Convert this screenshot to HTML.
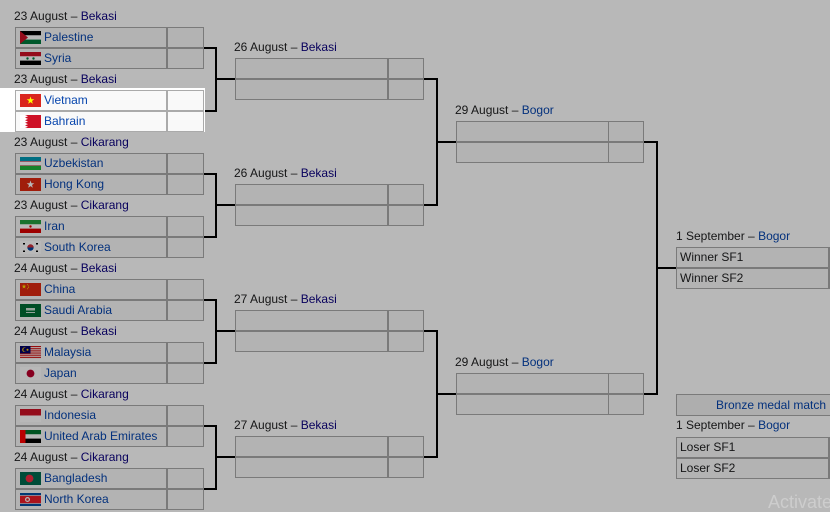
<!DOCTYPE html>
<html><head><meta charset="utf-8">
<style>
html,body{margin:0;padding:0}
body{width:830px;height:512px;overflow:hidden;position:relative;background:#fff;font-family:"Liberation Sans",Arial,sans-serif}
.lbl{position:absolute;font-size:12px;line-height:14px;color:#202122;white-space:nowrap}
.vi{color:#0b0080}.bl{color:#0645ad}
.c{position:absolute;height:21px;box-sizing:border-box;border:1px solid #aaa;background:#f9f9f9;font-size:12px;line-height:19px;color:#0645ad;white-space:nowrap;overflow:hidden}
.n{width:152px}.s{width:37px}
.q{width:153px}.qs{width:36px}
.c span{position:absolute;left:28px;top:0}
.f{position:absolute;left:4px;top:3px;width:21px;height:13px}
.w{color:#202122;padding-left:3px}
.h{position:absolute;height:2px;background:#000}
.v{position:absolute;width:2px;background:#000}
#ov{position:absolute;left:0;top:0;width:830px;height:512px;background:rgba(0,0,0,0.28);z-index:5}
#hl{position:absolute;left:0;top:88px;width:205px;height:44px;background:#fff;z-index:10}
.top{z-index:11}
#act{position:absolute;left:768px;top:492px;font-size:18px;line-height:20px;color:#cdcdcd;z-index:20;white-space:nowrap}
</style></head><body>

<!-- Round 1 labels -->
<div class="lbl" style="left:14px;top:9px">23 August – <span class="vi">Bekasi</span></div>
<div class="lbl" style="left:14px;top:72px">23 August – <span class="vi">Bekasi</span></div>
<div class="lbl" style="left:14px;top:135px">23 August – <span class="vi">Cikarang</span></div>
<div class="lbl" style="left:14px;top:198px">23 August – <span class="vi">Cikarang</span></div>
<div class="lbl" style="left:14px;top:261px">24 August – <span class="vi">Bekasi</span></div>
<div class="lbl" style="left:14px;top:324px">24 August – <span class="vi">Bekasi</span></div>
<div class="lbl" style="left:14px;top:387px">24 August – <span class="vi">Cikarang</span></div>
<div class="lbl" style="left:14px;top:450px">24 August – <span class="vi">Cikarang</span></div>

<!-- Palestine -->
<div class="c n" style="left:15px;top:27px"><svg class="f" viewBox="0 0 21 13" preserveAspectRatio="none"><rect width="21" height="4.4" fill="#000"/><rect y="4.3" width="21" height="4.4" fill="#fff"/><rect y="8.6" width="21" height="4.4" fill="#007a3d"/><polygon points="0,0 8,6.5 0,13" fill="#ce1126"/></svg><span>Palestine</span></div>
<div class="c s" style="left:167px;top:27px"></div>
<!-- Syria -->
<div class="c n" style="left:15px;top:48px"><svg class="f" viewBox="0 0 21 13" preserveAspectRatio="none"><rect width="21" height="4.4" fill="#ce1126"/><rect y="4.3" width="21" height="4.4" fill="#fff"/><rect y="8.6" width="21" height="4.4" fill="#000"/><circle cx="7.5" cy="6.5" r="1.2" fill="#007a3d"/><circle cx="13.5" cy="6.5" r="1.2" fill="#007a3d"/></svg><span>Syria</span></div>
<div class="c s" style="left:167px;top:48px"></div>

<!-- Uzbekistan -->
<div class="c n" style="left:15px;top:153px"><svg class="f" viewBox="0 0 21 13" preserveAspectRatio="none"><rect width="21" height="13" fill="#fff"/><rect width="21" height="4.2" fill="#0099b5"/><rect y="4.2" width="21" height="0.5" fill="#ce1126"/><rect y="8.3" width="21" height="0.5" fill="#ce1126"/><rect y="8.8" width="21" height="4.2" fill="#1eb53a"/></svg><span>Uzbekistan</span></div>
<div class="c s" style="left:167px;top:153px"></div>
<!-- Hong Kong -->
<div class="c n" style="left:15px;top:174px"><svg class="f" viewBox="0 0 21 13" preserveAspectRatio="none"><rect width="21" height="13" fill="#de2910"/><polygon points="10.5,2.5 11.44,5.21 14.3,5.26 12.02,6.99 12.85,9.74 10.5,8.1 8.15,9.74 8.98,6.99 6.7,5.26 9.56,5.21" fill="#fff"/></svg><span>Hong Kong</span></div>
<div class="c s" style="left:167px;top:174px"></div>
<!-- Iran -->
<div class="c n" style="left:15px;top:216px"><svg class="f" viewBox="0 0 21 13" preserveAspectRatio="none"><rect width="21" height="4.4" fill="#239f40"/><rect y="4.3" width="21" height="4.4" fill="#fff"/><rect y="8.6" width="21" height="4.4" fill="#da0000"/><circle cx="10.5" cy="6.5" r="1.2" fill="#da0000"/></svg><span>Iran</span></div>
<div class="c s" style="left:167px;top:216px"></div>
<!-- South Korea -->
<div class="c n" style="left:15px;top:237px"><svg class="f" viewBox="0 0 21 13" preserveAspectRatio="none"><rect width="21" height="13" fill="#fff"/><path d="M7.3,6.5 A3.2,3.2 0 0 1 13.7,6.5 Z" fill="#cd2e3a"/><path d="M7.3,6.5 A3.2,3.2 0 0 0 13.7,6.5 Z" fill="#0047a0"/><rect x="3" y="2" width="2" height="1.5" fill="#000"/><rect x="16" y="2" width="2" height="1.5" fill="#000"/><rect x="3" y="9.5" width="2" height="1.5" fill="#000"/><rect x="16" y="9.5" width="2" height="1.5" fill="#000"/></svg><span>South Korea</span></div>
<div class="c s" style="left:167px;top:237px"></div>
<!-- China -->
<div class="c n" style="left:15px;top:279px"><svg class="f" viewBox="0 0 21 13" preserveAspectRatio="none"><rect width="21" height="13" fill="#de2910"/><g transform="translate(4 3.5) scale(0.6) translate(-10.5 -6.5)"><polygon points="10.5,2.5 11.44,5.21 14.3,5.26 12.02,6.99 12.85,9.74 10.5,8.1 8.15,9.74 8.98,6.99 6.7,5.26 9.56,5.21" fill="#ffde00"/></g><circle cx="7.5" cy="1.8" r="0.5" fill="#ffde00"/><circle cx="8.5" cy="3" r="0.5" fill="#ffde00"/><circle cx="8.5" cy="4.6" r="0.5" fill="#ffde00"/><circle cx="7.5" cy="5.8" r="0.5" fill="#ffde00"/></svg><span>China</span></div>
<div class="c s" style="left:167px;top:279px"></div>
<!-- Saudi Arabia -->
<div class="c n" style="left:15px;top:300px"><svg class="f" viewBox="0 0 21 13" preserveAspectRatio="none"><rect width="21" height="13" fill="#006c35"/><rect x="6" y="4" width="9" height="2.5" fill="#cfe3d6"/><rect x="6" y="8" width="9" height="0.8" fill="#fff"/></svg><span>Saudi Arabia</span></div>
<div class="c s" style="left:167px;top:300px"></div>
<!-- Malaysia -->
<div class="c n" style="left:15px;top:342px"><svg class="f" viewBox="0 0 21 13" preserveAspectRatio="none"><rect width="21" height="13" fill="#fff"/><rect y="0" width="21" height="0.93" fill="#cc0001"/><rect y="1.86" width="21" height="0.93" fill="#cc0001"/><rect y="3.71" width="21" height="0.93" fill="#cc0001"/><rect y="5.57" width="21" height="0.93" fill="#cc0001"/><rect y="7.43" width="21" height="0.93" fill="#cc0001"/><rect y="9.29" width="21" height="0.93" fill="#cc0001"/><rect y="11.14" width="21" height="0.93" fill="#cc0001"/><rect width="10.5" height="7.4" fill="#010066"/><circle cx="4.5" cy="3.7" r="2.3" fill="#fc0"/><circle cx="5.3" cy="3.7" r="2" fill="#010066"/><circle cx="7.5" cy="3.7" r="1" fill="#fc0"/></svg><span>Malaysia</span></div>
<div class="c s" style="left:167px;top:342px"></div>
<!-- Japan -->
<div class="c n" style="left:15px;top:363px"><svg class="f" viewBox="0 0 21 13" preserveAspectRatio="none"><rect width="21" height="13" fill="#fff"/><circle cx="10.5" cy="6.5" r="3.9" fill="#bc002d"/></svg><span>Japan</span></div>
<div class="c s" style="left:167px;top:363px"></div>
<!-- Indonesia -->
<div class="c n" style="left:15px;top:405px"><svg class="f" viewBox="0 0 21 13" preserveAspectRatio="none"><rect width="21" height="13" fill="#fff"/><rect width="21" height="6.5" fill="#ce1126"/></svg><span>Indonesia</span></div>
<div class="c s" style="left:167px;top:405px"></div>
<!-- UAE -->
<div class="c n" style="left:15px;top:426px"><svg class="f" viewBox="0 0 21 13" preserveAspectRatio="none"><rect width="21" height="4.4" fill="#00732f"/><rect y="4.3" width="21" height="4.4" fill="#fff"/><rect y="8.6" width="21" height="4.4" fill="#000"/><rect width="5.5" height="13" fill="#ff0000"/></svg><span>United Arab Emirates</span></div>
<div class="c s" style="left:167px;top:426px"></div>
<!-- Bangladesh -->
<div class="c n" style="left:15px;top:468px"><svg class="f" viewBox="0 0 21 13" preserveAspectRatio="none"><rect width="21" height="13" fill="#006a4e"/><circle cx="9.5" cy="6.5" r="3.9" fill="#f42a41"/></svg><span>Bangladesh</span></div>
<div class="c s" style="left:167px;top:468px"></div>
<!-- North Korea -->
<div class="c n" style="left:15px;top:489px"><svg class="f" viewBox="0 0 21 13" preserveAspectRatio="none"><rect width="21" height="13" fill="#024fa2"/><rect y="2.2" width="21" height="8.6" fill="#fff"/><rect y="2.8" width="21" height="7.4" fill="#ed1c27"/><circle cx="7.5" cy="6.5" r="2.5" fill="#fff"/><circle cx="7.5" cy="6.5" r="1.3" fill="#ed1c27"/></svg><span>North Korea</span></div>
<div class="c s" style="left:167px;top:489px"></div>

<!-- R1 connectors -->
<div class="h" style="left:204px;top:47px;width:13px"></div>
<div class="h" style="left:204px;top:110px;width:13px"></div>
<div class="v" style="left:215px;top:47px;height:65px"></div>
<div class="h" style="left:215px;top:78px;width:20px"></div>

<div class="h" style="left:204px;top:173px;width:13px"></div>
<div class="h" style="left:204px;top:236px;width:13px"></div>
<div class="v" style="left:215px;top:173px;height:65px"></div>
<div class="h" style="left:215px;top:204px;width:20px"></div>

<div class="h" style="left:204px;top:299px;width:13px"></div>
<div class="h" style="left:204px;top:362px;width:13px"></div>
<div class="v" style="left:215px;top:299px;height:65px"></div>
<div class="h" style="left:215px;top:330px;width:20px"></div>

<div class="h" style="left:204px;top:425px;width:13px"></div>
<div class="h" style="left:204px;top:488px;width:13px"></div>
<div class="v" style="left:215px;top:425px;height:65px"></div>
<div class="h" style="left:215px;top:456px;width:20px"></div>

<!-- Quarterfinals -->
<div class="lbl" style="left:234px;top:40px">26 August – <span class="vi">Bekasi</span></div>
<div class="c q" style="left:235px;top:58px"></div><div class="c qs" style="left:388px;top:58px"></div>
<div class="c q" style="left:235px;top:79px"></div><div class="c qs" style="left:388px;top:79px"></div>

<div class="lbl" style="left:234px;top:166px">26 August – <span class="vi">Bekasi</span></div>
<div class="c q" style="left:235px;top:184px"></div><div class="c qs" style="left:388px;top:184px"></div>
<div class="c q" style="left:235px;top:205px"></div><div class="c qs" style="left:388px;top:205px"></div>

<div class="lbl" style="left:234px;top:292px">27 August – <span class="vi">Bekasi</span></div>
<div class="c q" style="left:235px;top:310px"></div><div class="c qs" style="left:388px;top:310px"></div>
<div class="c q" style="left:235px;top:331px"></div><div class="c qs" style="left:388px;top:331px"></div>

<div class="lbl" style="left:234px;top:418px">27 August – <span class="vi">Bekasi</span></div>
<div class="c q" style="left:235px;top:436px"></div><div class="c qs" style="left:388px;top:436px"></div>
<div class="c q" style="left:235px;top:457px"></div><div class="c qs" style="left:388px;top:457px"></div>

<!-- QF connectors -->
<div class="h" style="left:424px;top:78px;width:14px"></div>
<div class="h" style="left:424px;top:204px;width:14px"></div>
<div class="v" style="left:436px;top:78px;height:128px"></div>
<div class="h" style="left:436px;top:141px;width:20px"></div>

<div class="h" style="left:424px;top:330px;width:14px"></div>
<div class="h" style="left:424px;top:456px;width:14px"></div>
<div class="v" style="left:436px;top:330px;height:128px"></div>
<div class="h" style="left:436px;top:393px;width:20px"></div>

<!-- Semifinals -->
<div class="lbl" style="left:455px;top:103px">29 August – <span class="bl">Bogor</span></div>
<div class="c q" style="left:456px;top:121px"></div><div class="c qs" style="left:608px;top:121px"></div>
<div class="c q" style="left:456px;top:142px"></div><div class="c qs" style="left:608px;top:142px"></div>

<div class="lbl" style="left:455px;top:355px">29 August – <span class="bl">Bogor</span></div>
<div class="c q" style="left:456px;top:373px"></div><div class="c qs" style="left:608px;top:373px"></div>
<div class="c q" style="left:456px;top:394px"></div><div class="c qs" style="left:608px;top:394px"></div>

<!-- SF connectors -->
<div class="h" style="left:644px;top:141px;width:14px"></div>
<div class="h" style="left:644px;top:393px;width:14px"></div>
<div class="v" style="left:656px;top:141px;height:254px"></div>
<div class="h" style="left:656px;top:267px;width:20px"></div>

<!-- Final -->
<div class="lbl" style="left:676px;top:229px">1 September – <span class="bl">Bogor</span></div>
<div class="c q w" style="left:676px;top:247px">Winner SF1</div><div class="c qs" style="left:829px;top:247px"></div>
<div class="c q w" style="left:676px;top:268px">Winner SF2</div><div class="c qs" style="left:829px;top:268px"></div>

<!-- Bronze -->
<div class="c" style="left:676px;top:394px;width:190px;height:22px;line-height:20px;text-align:center;background:#f2f2f2">Bronze medal match</div>
<div class="lbl" style="left:676px;top:418px">1 September – <span class="bl">Bogor</span></div>
<div class="c q w" style="left:676px;top:437px">Loser SF1</div><div class="c qs" style="left:829px;top:437px"></div>
<div class="c q w" style="left:676px;top:458px">Loser SF2</div><div class="c qs" style="left:829px;top:458px"></div>

<!-- Dim overlay -->
<div id="ov"></div>

<!-- Highlighted (undimmed) match -->
<div id="hl"></div>
<div class="c n top" style="left:15px;top:90px"><svg class="f" viewBox="0 0 21 13" preserveAspectRatio="none"><rect width="21" height="13" fill="#da251d"/><polygon points="10.5,2.5 11.44,5.21 14.3,5.26 12.02,6.99 12.85,9.74 10.5,8.1 8.15,9.74 8.98,6.99 6.7,5.26 9.56,5.21" fill="#ffff00"/></svg><span>Vietnam</span></div>
<div class="c s top" style="left:167px;top:90px"></div>
<div class="c n top" style="left:15px;top:111px"><svg class="f" viewBox="0 0 21 13" preserveAspectRatio="none"><rect width="21" height="13" fill="#fff"/><polygon points="5,0 21,0 21,13 5,13 8,11.7 5,10.4 8,9.1 5,7.8 8,6.5 5,5.2 8,3.9 5,2.6 8,1.3" fill="#ce1126"/></svg><span>Bahrain</span></div>
<div class="c s top" style="left:167px;top:111px"></div>

<div id="act">Activate</div>
</body></html>
